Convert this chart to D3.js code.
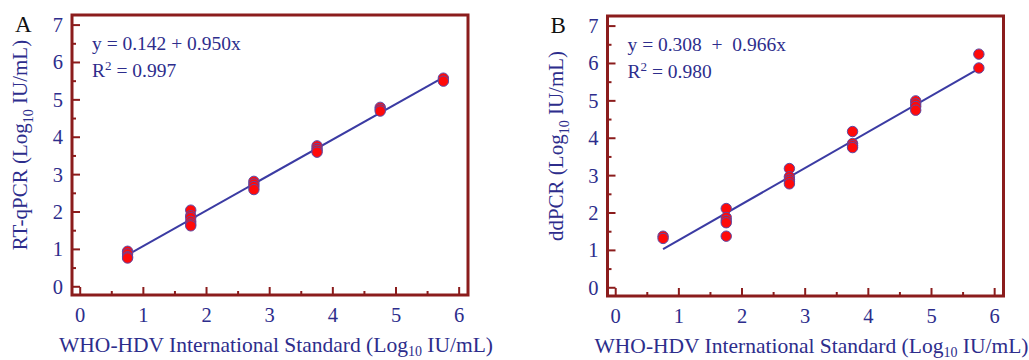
<!DOCTYPE html>
<html>
<head>
<meta charset="utf-8">
<script src="https://cdn.jsdelivr.net/npm/d3@7"></script>
<style>
  body { margin: 0; background: #fff; }
  svg text { font-family: "Liberation Serif", "DejaVu Serif", serif; white-space: pre; }
</style>
</head>
<body>
<svg id="chart" width="1029" height="360"></svg>
<script>
// x positions of the standard dilutions
const levels = [0.75, 1.75, 2.75, 3.75, 4.75, 5.75];

// Panel A: RT-qPCR readings per level
const qpcrValues = [
  [0.95, 0.88, 0.80, 0.77],
  [2.05, 1.90, 1.85, 1.75, 1.68, 1.63],
  [2.82, 2.75, 2.68, 2.60],
  [3.77, 3.70, 3.65, 3.60],
  [4.80, 4.75, 4.70],
  [5.58, 5.50]
];

// Panel B: ddPCR readings per level
const ddpcrValues = [
  [1.38, 1.32],
  [2.12, 1.88, 1.80, 1.74, 1.38],
  [3.19, 2.97, 2.90, 2.85, 2.78],
  [4.18, 3.86, 3.80, 3.75],
  [5.00, 4.92, 4.85, 4.75],
  [6.25, 5.88]
];

const fitA = {a: 0.142, b: 0.950, r2: "0.997"};
const fitB = {a: 0.308, b: 0.966, r2: "0.980"};

const xTicks = [0, 1, 2, 3, 4, 5, 6];
const yTicks = [0, 1, 2, 3, 4, 5, 6, 7];

const frameColor = "#8b1c1c", textColor = "#2d2d8c", lineColor = "#3b3ba3";
const w = 396, h = 280;

const svg = d3.select("#chart");

function panel(left, top, letter, values, fit, yLabel, eqA) {
  const g = svg.append("g").attr("transform", `translate(${left},${top})`);
  const x = d3.scaleLinear().domain([-0.13, 6.14]).range([0, w]);
  const y = d3.scaleLinear().domain([-0.22, 7.27]).range([h, 0]);

  // minor + major ticks, drawn inward
  const halfX = d3.range(0, 6.01, 0.5), halfY = d3.range(0, 7.01, 0.5);
  g.selectAll(".xt").data(halfX).join("line")
    .attr("x1", d => x(d)).attr("x2", d => x(d))
    .attr("y1", h).attr("y2", d => h - (d % 1 === 0 ? 8 : 4))
    .attr("stroke", frameColor).attr("stroke-width", 2);
  g.selectAll(".yt").data(halfY).join("line")
    .attr("y1", d => y(d)).attr("y2", d => y(d))
    .attr("x1", 0).attr("x2", d => (d % 1 === 0 ? 8 : 4))
    .attr("stroke", frameColor).attr("stroke-width", 2);

  g.append("rect").attr("width", w).attr("height", h)
    .attr("fill", "none").attr("stroke", frameColor).attr("stroke-width", 3);

  g.selectAll(".xl").data(xTicks).join("text")
    .attr("x", d => x(d)).attr("y", h + 27)
    .attr("text-anchor", "middle").attr("font-size", 20.5).attr("fill", textColor)
    .text(d => d);
  g.selectAll(".yl").data(yTicks).join("text")
    .attr("x", -9).attr("y", d => y(d) + 7)
    .attr("text-anchor", "end").attr("font-size", 20.5).attr("fill", textColor)
    .text(d => d);

  // regression line
  const line = d3.line().x(d => x(d)).y(d => y(fit.a + fit.b * d));
  g.append("path").datum([levels[0], levels[levels.length - 1]])
    .attr("d", line).attr("fill", "none")
    .attr("stroke", lineColor).attr("stroke-width", 2);

  const pts = values.flatMap((vs, i) => vs.map(v => [levels[i], v]));
  g.selectAll(".pt").data(pts).join("circle")
    .attr("cx", d => x(d[0])).attr("cy", d => y(d[1])).attr("r", 5.2)
    .attr("fill", "#ff0a0a").attr("stroke", "#5b4aa6").attr("stroke-width", 1);

  // equation
  g.append("text").attr("x", 20).attr("y", 35)
    .attr("font-size", 19.5).attr("fill", textColor).text(eqA);
  const r = g.append("text").attr("x", 20).attr("y", 62)
    .attr("font-size", 19.5).attr("fill", textColor);
  r.append("tspan").text("R");
  r.append("tspan").attr("dy", -7).attr("font-size", 13).text("2");
  r.append("tspan").attr("dy", 7).text(" = " + fit.r2);

  // panel letter
  g.append("text").attr("x", -57).attr("y", 17)
    .attr("font-size", 23).attr("fill", "#111").text(letter);

  // x title
  const xt = g.append("text").attr("x", w / 2 + 6).attr("y", h + 57)
    .attr("text-anchor", "middle").attr("font-size", 21.5).attr("fill", textColor);
  xt.append("tspan").text("WHO-HDV International Standard (Log");
  xt.append("tspan").attr("dy", 4).attr("font-size", 14).text("10");
  xt.append("tspan").attr("dy", -4).text(" IU/mL)");

  // y title
  const yt = g.append("text")
    .attr("transform", `translate(-45,${h / 2 - 10}) rotate(-90)`)
    .attr("text-anchor", "middle").attr("font-size", 21).attr("fill", textColor);
  yt.append("tspan").text(yLabel + " (Log");
  yt.append("tspan").attr("dy", 6).attr("font-size", 14).text("10");
  yt.append("tspan").attr("dy", -6).text(" IU/mL)");
}

panel(72, 15, "A", qpcrValues, fitA, "RT-qPCR", "y = 0.142 + 0.950x");
panel(607.5, 16, "B", ddpcrValues, fitB, "ddPCR", "y = 0.308  +  0.966x");
</script>
</body>
</html>
